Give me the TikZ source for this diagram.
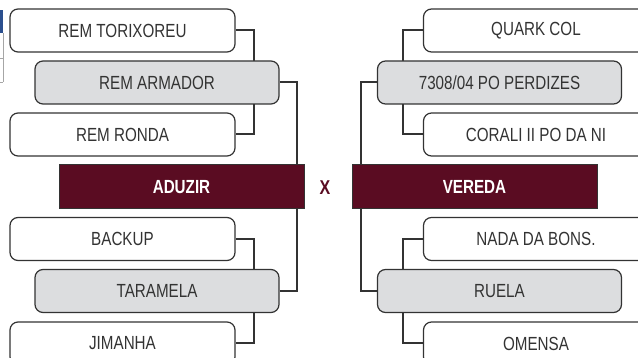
\documentclass[tikz,border=0pt]{standalone}
\usepackage{fontspec}
\setmainfont{Liberation Sans}[FakeStretch=0.80]
\usetikzlibrary{backgrounds}
\definecolor{maroon}{HTML}{5A0C22}
\definecolor{ink}{HTML}{333333}
\definecolor{lgray}{HTML}{DCDDDF}
\definecolor{tblue}{HTML}{2B4F8E}
\tikzset{
  teambox/.style={draw=ink, line width=1.2pt, rounded corners=8pt, fill=white,
    minimum width=225pt, minimum height=43pt, inner sep=0pt, text=ink,
    font=\fontsize{19}{19}\selectfont},
  winbox/.style={teambox, fill=lgray, minimum width=244pt},
  finalbox/.style={draw=ink, line width=1pt, fill=maroon, minimum width=245pt,
    minimum height=44pt, inner sep=0pt, text=white,
    font=\fontsize{19}{19}\selectfont\bfseries},
  link/.style={draw=ink, line width=2pt},
}
\begin{document}
\begin{tikzpicture}[x=1pt,y=-1pt]
\useasboundingbox (0,0) rectangle (638,358);
\clip (0,0) rectangle (638,358);
% table fragment
\fill[tblue] (0,10) rectangle (3,33);
\draw[gray!70, line width=0.6pt] (3,33) -- (3,82) (0,58) -- (3,58) (0,82) -- (3,82);
% left bracket
\node[teambox] (l1) at (122.5,30.5) {REM TORIXOREU};
\node[winbox]  (l2) at (157,82.5) {REM ARMADOR};
\node[teambox] (l3) at (122.5,134.5) {REM RONDA};
\node[finalbox] (fa) at (181.5,187) {ADUZIR};
\node[teambox] (l4) at (122.5,239) {BACKUP};
\node[winbox]  (l5) at (157,291) {TARAMELA};
\node[teambox] (l6) at (122.5,343.5) {JIMANHA};
\node[text=maroon, font=\fontsize{20}{20}\selectfont\bfseries] (vs) at (325,188) {X};
% right bracket
\node[teambox] (r1) at (536,30.5) {QUARK COL};
\node[winbox]  (r2) at (499.5,82.5) {7308/04 PO PERDIZES};
\node[teambox] (r3) at (536,134.5) {CORALI II PO DA NI};
\node[finalbox] (fb) at (474.5,187) {VEREDA};
\node[teambox] (r4) at (536,239) {NADA DA BONS.};
\node[winbox]  (r5) at (499.5,291) {RUELA};
\node[teambox] (r6) at (536,343.5) {OMENSA};
\begin{scope}[on background layer]
\draw[link] (l1.east) -- ++(18,0) |- (l3.east);
\draw[link] (l2.east) -| ([xshift=-8pt]fa.north east);
\draw[link] (l4.east) -- ++(18,0) |- (l6.east);
\draw[link] (l5.east) -| ([xshift=-8pt]fa.south east);
\draw[link] (r1.west) -- ++(-20,0) |- (r3.west);
\draw[link] (r2.west) -| ([xshift=9pt]fb.north west);
\draw[link] (r4.west) -- ++(-20,0) |- (r6.west);
\draw[link] (r5.west) -| ([xshift=9pt]fb.south west);
\end{scope}
\end{tikzpicture}
\end{document}
